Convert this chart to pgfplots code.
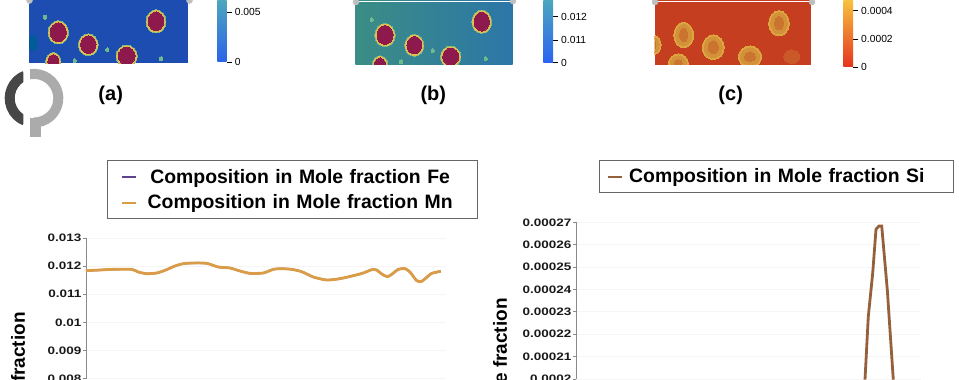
\documentclass[border=0pt]{standalone}
\usepackage{pgfplots}
\pgfplotsset{compat=1.18}
\usepackage{fontspec}
\setmainfont{Liberation Sans}
\newfontfamily\tickfont{Liberation Sans}[FakeStretch=1.25]
\definecolor{core}{HTML}{8E1A4D}
\definecolor{ringy}{HTML}{E0BE50}
\definecolor{ringg}{HTML}{6DBA8C}
\definecolor{cbase}{HTML}{C53E20}
\definecolor{cring}{HTML}{DCA53F}
\definecolor{cin}{HTML}{D3913A}
\definecolor{cmid}{HTML}{CB7430}
\definecolor{axgray}{HTML}{8A8A8A}
\definecolor{gridc}{HTML}{F5F5F5}
\definecolor{mnc}{HTML}{DB9C47}
\definecolor{fec}{HTML}{5E4490}
\definecolor{sic}{HTML}{96603C}
\newcommand\el[5]{\addplot[#5,only marks,forget plot,mark=*,mark size={(#4)*1pt},mark options={solid,xscale={(#3)/(#4)},draw=#5,fill=#5,line width=0pt}] coordinates {(#1,#2)};}
\newcommand\hot[4]{\el{#1}{#2}{#3+0.9}{#4+0.9}{ringg}\el{#1}{#2}{#3+0.2}{#4+0.2}{ringy}\el{#1}{#2}{#3-1.3}{#4-1.3}{core}}
\newcommand\sun[4]{\el{#1}{#2}{#3}{#4}{cring}\el{#1}{#2}{#3-2}{#4-2}{cin}\el{#1}{#2}{#3-6}{#4-6}{cmid}}
\newcommand\spot[2]{\el{#1}{#2}{1.5}{2}{ringg}}
\pgfplotsset{
 panel/.style={scale only axis,hide axis,clip=true,clip marker paths=true,anchor=south west,y dir=reverse},
 cbar/.style={scale only axis,anchor=south west,y dir=reverse,axis y line=right,axis x line=none,
   y axis line style={draw=none},tick align=outside,major tick length=5pt,tick style={black,line width=0.7pt},
   xmin=0,xmax=1,ymin=0,yticklabel style={font=\fontsize{10.3}{12}\selectfont,inner xsep=3pt},clip=true},
 chart/.style={scale only axis,anchor=south west,axis y line=left,axis x line=none,scaled y ticks=false,
   y axis line style={draw=axgray,-,line width=0.8pt},tick style={axgray,line width=0.7pt},
   tick align=outside,major tick length=3pt,
   xmajorgrids,ymajorgrids,grid style={gridc,line width=0.8pt},
   yticklabel style={font=\tickfont\fontsize{10.8}{12}\selectfont\bfseries,text=black!90,inner xsep=1.5pt},
   legend image code/.code={\draw[#1,line width=2pt] (0pt,0pt) -- (14pt,0pt);},
   clip=false},
 lgnd/.style={draw=black!60,line width=0.9pt,fill=white,font=\fontsize{19.4}{23}\selectfont\bfseries,
   anchor=north west}
}
\begin{document}
\begin{tikzpicture}[x=1pt,y=1pt]
\path[use as bounding box,clip] (0,0) rectangle (959pt,380pt);
% (a)
\begin{axis}[panel,at={(28.7pt,316.5pt)},width=159.6pt,height=63.5pt,xmin=28.7,xmax=188.3,ymin=0,ymax=63.5]
\addplot[draw=none,forget plot,fill={rgb,255:red,30;green,77;blue,178}] coordinates {(28.7,0)(188.3,0)(188.3,63.5)(28.7,63.5)} --cycle;
\el{33}{43}{4}{8}{blue!40!cyan!60!black}
\hot{58.3}{32.3}{9.3}{10.7}\hot{88.3}{44.7}{9}{10}\hot{156}{21.3}{9}{10.7}\hot{126.7}{56}{9.7}{10}\hot{53.3}{61.7}{6.7}{8.3}
\spot{45}{17.3}\spot{107.3}{50}\spot{74.7}{61}\spot{161}{58.7}
\end{axis}
% (b)
\begin{axis}[panel,at={(355.3pt,315pt)},width=157.4pt,height=65pt,xmin=355.3,xmax=512.7,ymin=0,ymax=65]
\addplot[left color={rgb,255:red,59;green,141;blue,133},right color={rgb,255:red,44;green,118;blue,168},draw=none,forget plot] coordinates {(355.3,0)(512.7,0)(512.7,65)(355.3,65)} --cycle;
\addplot[white,line width=1pt,forget plot] coordinates {(355.3,2)(512.7,2)};
\hot{385}{35}{9.3}{10.7}\hot{414.3}{45.3}{8.7}{10}\hot{450.7}{56.7}{9.3}{9.7}\hot{380}{64}{6.7}{7.3}\hot{481.7}{21.7}{9}{10.7}
\spot{371.7}{20}\spot{432.7}{50.7}\spot{401}{62}\spot{485.7}{59}
\end{axis}
% (c)
\begin{axis}[panel,at={(654.7pt,315pt)},width=156.3pt,height=65pt,xmin=654.7,xmax=811,ymin=0,ymax=65]
\addplot[fill=cbase,draw=none,forget plot] coordinates {(654.7,0)(811,0)(811,65)(654.7,65)} --cycle;
\addplot[white,line width=1pt,forget plot] coordinates {(654.7,1.5)(811,1.5)};
\sun{683.7}{35}{10}{12.7}\sun{713.3}{47.3}{11}{12.3}\sun{779}{23.3}{10.3}{12.7}\sun{750}{56.7}{11.7}{10.7}\sun{678.3}{63.3}{10}{9.3}\sun{655}{45}{6}{9.3}
\el{791.7}{56.7}{8}{6.7}{cbase!75!cring}
\end{axis}
% colour bars
\begin{axis}[cbar,at={(217.3pt,318pt)},width=9.4pt,height=62pt,ymax=62,ytick={12,62},yticklabels={0.005,0}]
\addplot[draw=none,top color={rgb,255:red,76;green,166;blue,190},bottom color={rgb,255:red,43;green,99;blue,232}] coordinates {(0,0)(1,0)(1,62)(0,62)} --cycle;
\end{axis}
\begin{axis}[cbar,at={(543.3pt,317.3pt)},width=9.7pt,height=62.7pt,ymax=62.7,ytick={16.7,40,62.7},yticklabels={0.012,0.011,0}]
\addplot[draw=none,top color={rgb,255:red,76;green,166;blue,190},bottom color={rgb,255:red,43;green,99;blue,240}] coordinates {(0,0)(1,0)(1,62.7)(0,62.7)} --cycle;
\end{axis}
\begin{axis}[cbar,at={(843.3pt,313pt)},width=9.7pt,height=67pt,ymax=67,ytick={10.7,39,67},yticklabels={0.0004,0.0002,0}]
\addplot[draw=none,top color={rgb,255:red,247;green,194;blue,63},middle color={rgb,255:red,240;green,130;blue,44},bottom color={rgb,255:red,229;green,51;blue,31}] coordinates {(0,0)(1,0)(1,67)(0,67)} --cycle;
\end{axis}
% canvas: captions, logo
\begin{axis}[panel,at={(0pt,0pt)},width=959pt,height=380pt,xmin=0,xmax=959,ymin=0,ymax=380,clip=false]
\addplot[only marks,forget plot,mark=*,mark size=3pt,mark options={draw=black!25,fill=black!25}] coordinates {(29.5,0.5)(189.5,0.5)(356,2)(513,1)(655,2)(812,2)};
\node[font=\fontsize{20}{24}\selectfont\bfseries] at (axis cs:110.7,95) {(a)};
\node[font=\fontsize{20}{24}\selectfont\bfseries] at (axis cs:433.3,95) {(b)};
\node[font=\fontsize{20}{24}\selectfont\bfseries] at (axis cs:730.7,95) {(c)};
\node[font=\fontsize{19}{22}\selectfont\bfseries,rotate=90,anchor=east,inner sep=0pt] at (axis cs:18,312) {Mole fraction};
\node[font=\fontsize{19}{22}\selectfont\bfseries,rotate=90,anchor=east,inner sep=0pt] at (axis cs:500,298) {Mole fraction};
\end{axis}
\begin{scope}
\clip (0,230pt) rectangle (23.3pt,320pt);
\draw[line width=10pt,color=black!72] (34pt,281.8pt) ++(112:24.3pt) arc[start angle=112,end angle=248,radius=24.3pt];
\end{scope}
\begin{scope}
\clip (30pt,240pt) rectangle (70pt,320pt);
\draw[line width=10pt,color=black!33] (34pt,281.8pt) ++(100:24.3pt) arc[start angle=100,end angle=-90,radius=24.3pt];
\end{scope}
\fill[black!33] (30pt,243.3pt) rectangle (41pt,262pt);
% Fe / Mn
\begin{axis}[chart,at={(86pt,1.3pt)},width=360pt,height=140.7pt,xmin=0,xmax=360,ymin=0.008,ymax=0.013,
 xtick={59,119.7,180,240.7,301.3},
 ytick={0.008,0.009,0.01,0.011,0.012,0.013},yticklabels={0.008,0.009,0.01,0.011,0.012,0.013},
 legend style={lgnd,at={(axis description cs:0.0575,1.552)},inner xsep=14pt,inner ysep=6.5pt,row sep=6pt,
   nodes={text width=326pt,align=center,inner xsep=0pt}}]
\addplot[fec,line width=2pt,smooth,tension=0.4] coordinates {(0,0.011839)(14,0.011863)(27.3,0.011886)(45.7,0.011886)(52.3,0.011791)(60.7,0.011732)(70.7,0.011756)(79,0.011851)(89,0.012005)(97.3,0.012088)(107.3,0.012111)(120.7,0.0121)(132.3,0.011969)(144,0.011934)(154,0.011827)(164,0.011744)(177.3,0.011756)(187.3,0.011886)(195.7,0.01191)(205.7,0.011886)(215.7,0.011803)(227.3,0.011614)(240.7,0.011507)(254,0.011555)(267.3,0.011661)(277.3,0.011756)(285.7,0.011874)(290.7,0.011863)(295.7,0.01172)(301.3,0.011626)(305.7,0.011709)(312.3,0.011886)(319,0.01191)(324,0.011791)(330.7,0.011483)(335.7,0.01146)(340.7,0.011602)(345.7,0.011744)(354.7,0.011815)};
\addlegendentry{Composition in Mole fraction Fe}
\addplot[mnc,line width=2.8pt,smooth,tension=0.4] coordinates {(0,0.011839)(14,0.011863)(27.3,0.011886)(45.7,0.011886)(52.3,0.011791)(60.7,0.011732)(70.7,0.011756)(79,0.011851)(89,0.012005)(97.3,0.012088)(107.3,0.012111)(120.7,0.0121)(132.3,0.011969)(144,0.011934)(154,0.011827)(164,0.011744)(177.3,0.011756)(187.3,0.011886)(195.7,0.01191)(205.7,0.011886)(215.7,0.011803)(227.3,0.011614)(240.7,0.011507)(254,0.011555)(267.3,0.011661)(277.3,0.011756)(285.7,0.011874)(290.7,0.011863)(295.7,0.01172)(301.3,0.011626)(305.7,0.011709)(312.3,0.011886)(319,0.01191)(324,0.011791)(330.7,0.011483)(335.7,0.01146)(340.7,0.011602)(345.7,0.011744)(354.7,0.011815)};
\addlegendentry{Composition in Mole fraction Mn}
\end{axis}
% Si
\begin{axis}[chart,at={(576pt,1pt)},width=345pt,height=156.7pt,xmin=0,xmax=345,ymin=0.0002,ymax=0.00027,
 xtick={58,115.3,172.7,230,287.4},
 ytick={0.0002,0.00021,0.00022,0.00023,0.00024,0.00025,0.00026,0.00027},
 yticklabels={0.0002,0.00021,0.00022,0.00023,0.00024,0.00025,0.00026,0.00027},
 legend style={lgnd,at={(axis description cs:0.0658,1.3957)},inner xsep=8pt,inner ysep=6pt,
   nodes={text width=310pt,align=left,inner xsep=6pt}}]
\addplot[sic,line width=2.8pt] coordinates {(289,0.0001997)(292.3,0.00022795)(296.7,0.00024727)(300,0.00026688)(303,0.00026837)(305.7,0.00026837)(311.3,0.00023984)(317.3,0.0001997)};
\addlegendentry{Composition in Mole fraction Si}
\end{axis}
\end{tikzpicture}
\end{document}
